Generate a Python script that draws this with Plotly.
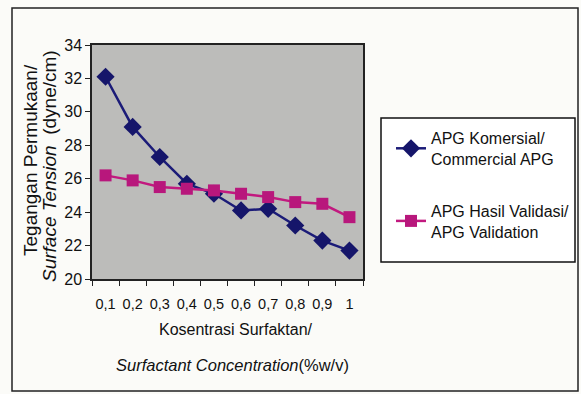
import plotly.graph_objects as go

categories = ["0,1", "0,2", "0,3", "0,4", "0,5", "0,6", "0,7", "0,8", "0,9", "1"]
commercial = [32.1, 29.1, 27.3, 25.7, 25.1, 24.1, 24.2, 23.2, 22.3, 21.7]
validation = [26.2, 25.9, 25.5, 25.4, 25.3, 25.1, 24.9, 24.6, 24.5, 23.7]
y_ticks = [20, 22, 24, 26, 28, 30, 32, 34]

FONT = "Arial"

W, H = 581, 394
L, R, T, B = 92, 363, 45, 279


def px(x):
    return (x - L) / (R - L)


def py(y):
    return (B - y) / (B - T)


fig = go.Figure()
fig.add_trace(go.Scatter(
    x=categories, y=commercial, mode="lines+markers",
    name="APG Komersial/<br>Commercial APG", legendgroup="a",
    line=dict(color="#1b1b78", width=2.5),
    marker=dict(symbol="diamond", size=14, color="#15156a"),
))
fig.add_trace(go.Scatter(
    x=categories, y=validation, mode="lines+markers",
    name="APG Hasil Validasi/<br>APG Validation", legendgroup="b",
    line=dict(color="#c2197f", width=2.5),
    marker=dict(symbol="square", size=12, color="#b8177c"),
))

fig.update_layout(
    width=W, height=H,
    margin=dict(l=L, r=W - R, t=T, b=H - B, autoexpand=False),
    paper_bgcolor="#fbfbf8",
    plot_bgcolor="#bcbcba",
    font=dict(family=FONT, size=16, color="#111"),
    showlegend=True,
    legend=dict(
        x=px(391), y=py(121), xanchor="left", yanchor="top",
        bgcolor="rgba(0,0,0,0)", borderwidth=0,
        font=dict(size=16, family=FONT), tracegroupgap=28,
        itemwidth=30,
    ),
)
fig.update_xaxes(
    type="category", range=[-0.5, 9.5], showgrid=False, showline=True,
    linecolor="#222", linewidth=1.5, mirror=True, ticks="outside", ticklen=5,
    tickcolor="#222", tickson="boundaries",
    tickfont=dict(size=14.5, family=FONT), ticklabelstandoff=11, tickangle=0,
)
fig.update_yaxes(
    range=[20, 34], tickvals=y_ticks, showgrid=False, showline=True, linecolor="#222",
    linewidth=1.5, mirror=True, ticks="outside", ticklen=5, tickcolor="#222",
    tickfont=dict(size=16, family=FONT), zeroline=False,
)

fig.add_annotation(text="Tegangan Permukaan/", xref="paper", yref="paper",
                   x=px(30), y=py(160), textangle=-90, showarrow=False,
                   xanchor="center", yanchor="middle",
                   font=dict(size=19, family=FONT))
fig.add_annotation(text="<i>Surface Tension</i>  (dyne/cm)", xref="paper", yref="paper",
                   x=px(49), y=py(166), textangle=-90, showarrow=False,
                   xanchor="center", yanchor="middle",
                   font=dict(size=19, family=FONT))
fig.add_annotation(text="Kosentrasi Surfaktan/", xref="paper", yref="paper",
                   x=px(236), y=py(329), showarrow=False,
                   xanchor="center", yanchor="middle",
                   font=dict(size=16, family=FONT))
fig.add_annotation(text="<i>Surfactant Concentration</i>(%w/v)", xref="paper", yref="paper",
                   x=px(232), y=py(365), showarrow=False,
                   xanchor="center", yanchor="middle",
                   font=dict(size=16.5, family=FONT))

# legend frame
fig.add_shape(type="rect", xref="paper", yref="paper",
              x0=px(381), x1=px(575), y0=py(262), y1=py(118),
              line=dict(color="#111", width=1.5), fillcolor="white", layer="below")
# outer chart frame
fig.add_shape(type="rect", xref="paper", yref="paper",
              x0=px(12), x1=px(578), y0=py(391), y1=py(8),
              line=dict(color="#222", width=1.5), layer="below")

fig.write_html("out.html")
